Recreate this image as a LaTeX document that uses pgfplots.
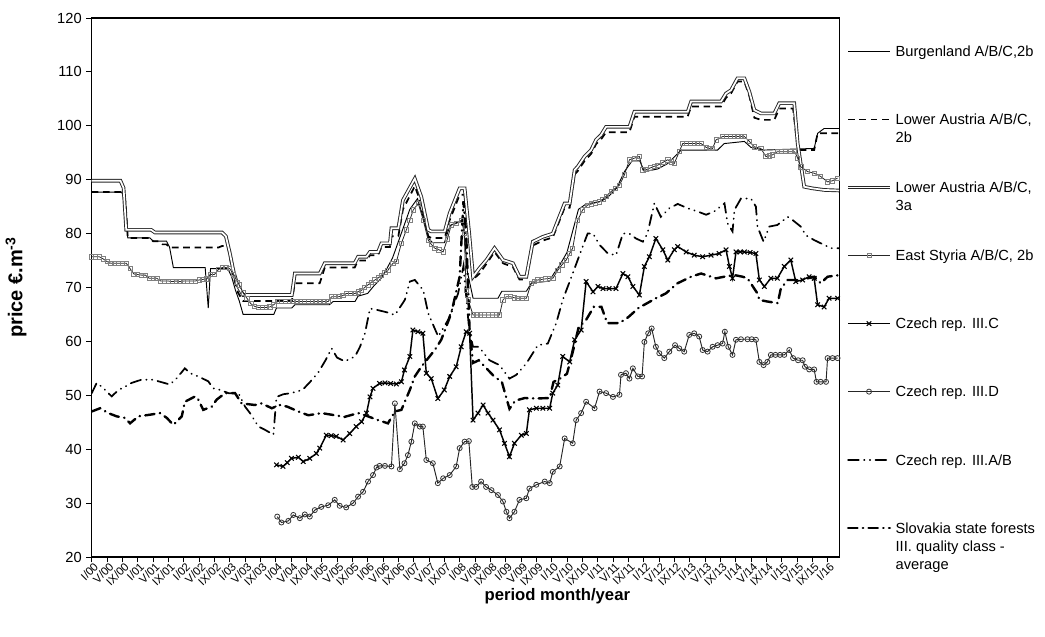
\documentclass[border=0pt]{standalone}
\usepackage{fontspec}
\setmainfont{Liberation Sans}
\usepackage{pgfplots}
\pgfplotsset{compat=1.18}

\tikzset{
  burg/.style={black, line width=0.7pt},
  lowb/.style={black, line width=1.3pt, dash pattern=on 5pt off 3.5pt},
  lowa/.style={draw=black!85, line width=0.7pt, double=white, double distance=1.3pt},
  styr/.style={black!85, line width=0.6pt, mark=square, mark size=1.6pt, mark options={draw=black!50, line width=0.55pt, solid}},
  czc/.style={black, line width=1.1pt, mark=x, mark size=2.4pt, mark options={line width=0.8pt, solid}},
  czd/.style={black!85, line width=0.7pt, mark=o, mark size=1.9pt, mark options={line width=0.6pt, draw=black!80, solid}},
  czab/.style={black, line width=1.3pt, line cap=round, dash pattern=on 8pt off 4pt on 0.3pt off 4pt on 0.3pt off 4pt},
  slov/.style={black, line width=1.8pt, line cap=round, dash pattern=on 7pt off 4pt on 0.3pt off 4pt},
}

\newcommand{\lent}[1]{\parbox[t]{4.2cm}{\strut #1}}

\begin{document}
\begin{tikzpicture}
\useasboundingbox (-68.8pt,-59.25pt) rectangle (714.95pt,417.75pt);
\begin{axis}[
  at={(0,0)}, anchor=south west,
  scale only axis, width=560.5pt, height=404.25pt,
  xmin=0, xmax=195, ymin=20, ymax=120,
  xtick={0,4,...,192},
  xticklabels={I/00,V/00,IX/00,I/01,V/01,IX/01,I/02,V/02,IX/02,I/03,V/03,IX/03,I/04,V/04,IX/04,I/05,V/05,IX/05,I/06,V/06,IX/06,I/07,V/07,IX/07,I/08,V/08,IX/08,I/09,V/09,IX/09,I/10,V/10,IX/10,I/11,V/11,IX/11,I/12,V/12,IX/12,I/13,V/13,IX/13,I/14,V/14,IX/14,I/15,V/15,IX/15,I/16},
  ytick={20,30,...,120},
  tick align=outside, xtick pos=bottom, ytick pos=left,
  major tick length=4pt,
  axis line style={line width=0.8pt},
  every tick/.style={black, line width=0.6pt},
  /pgf/number format/assume math mode=true,
  yticklabel style={font=\fontsize{11}{13}\selectfont},
  xticklabel style={font=\fontsize{8.5}{10}\selectfont, rotate=45, anchor=north east, inner sep=0.3pt, xshift=1.5pt},
  xlabel={\textbf{period month/year}},
  ylabel={\textbf{price €.m\textsuperscript{-3}}},
  every axis x label/.style={at={(axis description cs:0.623,0)}, yshift=-29.5pt, anchor=center, font=\fontsize{12.5}{15}\selectfont},
  every axis y label/.style={at={(axis description cs:0,0.5)}, xshift=-56.8pt, rotate=90, anchor=center, font=\fontsize{15}{18}\selectfont},
  legend style={at={(1,1)}, anchor=north west, xshift=5.25pt, yshift=-18.3pt, draw=none, fill=none, inner sep=0pt, row sep=38.1pt, column sep=2pt, font=\fontsize{11}{13.5}\selectfont, nodes={inner sep=1pt}},
  legend cell align=left,
  legend image code/.code={\draw[mark repeat=2,mark phase=2,#1] plot coordinates {(0cm,0cm) (0.55cm,0cm) (1.1cm,0cm)};},
]

% Burgenland A/B/C,2b
\addplot[burg] coordinates {(0,87.7) (7.8,87.7) (8.8,86) (9.4,79.2) (15.2,79.2) (16,78.6) (19.5,78.6) (20.3,77.5) (21.3,73.7) (29.6,73.7) (30.4,66.2) (31,73.5) (35.5,73.5) (36.5,72) (37.5,69.5) (38.5,67.5) (39.5,65) (47.5,65) (48.2,66.2) (52.2,66.2) (53,66.8) (62,66.8) (63,67.4) (68.7,67.4) (69.5,68.4) (72,68.9) (73.5,70.2) (75.5,71.7) (77,73.5) (78.5,75.5) (80,78.5) (81.5,81.5) (83,84.5) (85,86.5) (86.5,83) (88,79) (89,78.3) (92,78.3) (93.5,81.5) (96,82.3) (97,82.3) (98,73) (99.5,68) (106,68) (107,69.3) (113.4,69.3) (114.7,70.8) (119.5,71.2) (120.5,72.5) (122,74) (124,76.5) (125.5,80.5) (127,84.5) (129,85.5) (133,86) (135,87) (137,88.5) (139,91.5) (141,93.5) (143,93.5) (144.2,91.5) (147.7,92) (150.3,93) (153.8,95.5) (163.3,95.5) (165,96.7) (170.3,97.1) (172,96) (175.5,95.5) (188.5,95.8) (189.4,98.6) (191.1,99.5) (195,99.5)};
\addlegendentry{\lent{Burgenland A/B/C,2b}}

% Lower Austria A/B/C, 2b
\addplot[lowb] coordinates {(0,87.7) (7.8,87.7) (8.8,86) (9.4,79.2) (15.2,79.2) (16,78.6) (17.5,78.6) (18.5,78) (19.5,78) (20.3,77.4) (33,77.4) (34,77.7) (35.5,77.7) (36.2,75) (37,72) (38.2,69) (39.5,67.5) (52.2,67.5) (53,70.8) (59.5,70.8) (60.8,73.7) (68.6,73.7) (69.5,75) (71.7,75) (72.6,76) (74.7,76) (75.6,77.5) (77.8,77.5) (78.2,79.5) (80,79.5) (81.2,84.5) (84.3,88.8) (86,85.5) (87.8,79.5) (88.6,79.2) (92.1,79.2) (93.4,82.5) (96,87.2) (97.3,87.2) (98.5,79) (99.5,71.5) (101.2,72.6) (103,74.4) (105.1,76.6) (107.3,74.5) (109.9,73.8) (111.6,71.5) (113.4,71.5) (115.1,77.8) (117.7,78.7) (120.3,79.3) (122,82.3) (123.4,84.8) (124.7,84.8) (126,91) (126.8,91.6) (128.6,93.5) (130.3,94.8) (131.6,96.6) (132.9,97.5) (134.2,98.8) (140.3,98.8) (141.6,101.7) (155.5,101.7) (156.4,103.6) (164.2,103.6) (165.5,105.2) (166.8,106) (168.5,108.2) (170.3,108.2) (171.6,105.5) (172.9,101.5) (174.6,101.1) (178.1,101.1) (179.4,103.2) (183,103.2) (184,97) (184.5,95.5) (188.5,95.5) (189.4,98.6) (195,98.6)};
\addlegendentry{\lent{Lower Austria A/B/C,\\\strut 2b}}

% Lower Austria A/B/C, 3a
\addplot[lowa] coordinates {(0,89.8) (7.5,89.8) (8.3,88.5) (9,80.7) (15.5,80.7) (16.5,80.2) (34,80.2) (35,79.5) (36,76.5) (37,73) (38,70.5) (39.5,68.6) (52.2,68.6) (53,72.6) (59.5,72.6) (60.8,74.5) (68.6,74.5) (69.5,75.7) (71.7,75.7) (72.6,76.6) (74.7,76.6) (75.6,78.2) (77.8,78.2) (78.2,81) (80,81) (81.2,86.2) (84.3,90.2) (86,86.8) (87.8,80.7) (88.6,80.4) (92.1,80.4) (93.4,83.8) (96,88.4) (97.3,88.4) (98.5,80) (99.5,72) (101.2,73.6) (103,75.1) (105.1,77.3) (107.3,75.1) (109.9,74.5) (111.6,72) (113.4,72) (115.1,78.5) (117.7,79.4) (120.3,80) (122,83.1) (123.4,85.6) (124.7,85.6) (126,91.8) (126.8,92.4) (128.6,94.3) (130.3,95.5) (131.6,97.4) (132.9,98.3) (134.2,99.8) (140.3,99.8) (141.6,102.6) (155.5,102.6) (156.4,104.5) (164.2,104.5) (165.5,106) (166.8,106.6) (168.5,108.8) (170.3,108.8) (171.6,106.3) (172.9,102.9) (174.6,102.3) (178.1,102.3) (179.4,104.2) (183.3,104.2) (184.2,96.7) (185.9,88.7) (188,88.4) (191.1,88.1) (195,88)};
\addlegendentry{\lent{Lower Austria A/B/C,\\\strut 3a}}

% East Styria A/B/C, 2b
\addplot[styr] coordinates {(0,75.7) (1,75.7) (2,75.7) (3,75.3) (4,74.8) (5,74.5) (6,74.5) (7,74.5) (8,74.5) (9,74.5) (10,73.5) (11,72.5) (12,72.4) (13,72.3) (14,72.3) (15,71.7) (16,71.7) (17,71.7) (18,71.2) (19,71.2) (20,71.2) (21,71.1) (22,71.2) (23,71.1) (24,71.2) (25,71.2) (26,71.2) (27,71.2) (28,71.4) (29,71.5) (30,71.6) (31,72.4) (32,72.4) (33,73.3) (34,73.7) (35,73.7) (36,73.5) (37,72.5) (38,71) (38.5,70.5) (39.5,69) (40.5,68) (41.5,67) (42.5,66.5) (43.5,66.3) (44.5,66.3) (45.5,66.3) (46.5,66.4) (47.5,66.8) (48.5,67.4) (49.5,67.4) (50.5,67.4) (51.5,67.4) (52.5,67.4) (53.5,67.4) (54.5,67.4) (55.5,67.4) (56.5,67.4) (57.5,67.4) (58.5,67.4) (59.5,67.4) (60.5,67.4) (61.7,67.4) (62.6,68.3) (63.5,68.3) (64.5,68.3) (65.5,68.5) (66.5,68.9) (67.5,68.9) (68.7,68.9) (69.5,69.2) (70.4,69.5) (71.2,70) (72.1,70.5) (73,71) (73.9,71.4) (74.8,71.8) (75.6,72.3) (76.5,72.8) (77.3,73.2) (78.6,74.5) (79.5,74.8) (80.8,78.2) (82.1,80.7) (83,82.5) (83.9,84.4) (85.2,85.6) (86.5,82.5) (87.8,78.8) (88.6,78) (89.5,77.3) (90.6,77) (91.7,76.6) (92.8,79) (93.8,81.6) (95.2,81.9) (96.5,82.5) (97.2,80) (97.7,69.5) (98.2,67.7) (99.5,64.9) (100.5,64.9) (101.5,64.9) (102.5,64.9) (103.5,64.9) (104.5,64.9) (105.5,64.9) (106.4,64.9) (107.3,67.7) (108.2,68.3) (109.2,68.3) (110.2,68.1) (111.2,68) (112.2,68) (113.4,68) (114.7,70.8) (115.5,71.2) (116.4,71.4) (117.4,71.5) (118.4,71.6) (119.4,71.7) (120.3,71.7) (121.6,73.2) (122.7,74.2) (123.8,75.1) (124.7,76.3) (125.5,77.3) (126.8,82.5) (128.1,84.4) (129.4,85.3) (130.4,85.5) (131.4,85.7) (132.5,85.9) (133.4,86.4) (134.2,86.9) (135.5,87.8) (136.6,88.4) (137.7,89) (139,90.9) (140.3,93.7) (141.6,94) (142.9,94.3) (143.8,91.8) (144.8,91.9) (145.8,92.2) (146.8,92.5) (147.7,92.7) (149,93.2) (150.3,93.7) (151.2,93.3) (152,93) (153.3,95.2) (154.2,96.7) (155.2,96.7) (156.2,96.7) (157.2,96.7) (158.1,96.7) (159,96.7) (160.3,96) (161.2,95.8) (162,95.8) (162.9,97.4) (164.6,98) (165.6,98) (166.6,98) (167.6,98) (168.6,98) (169.5,98) (170.3,98) (171.6,97.1) (172.9,96.1) (174.6,95.8) (175.9,94.3) (176.8,94.4) (177.6,94.6) (178.9,95.2) (179.9,95.2) (180.9,95.2) (182.4,95.2) (183.4,95.2) (184.2,94) (185,92.4) (186.8,91.5) (188.5,91.2) (190.2,90.6) (192,89.6) (193.3,89.8) (194.6,90.3)};
\addlegendentry{\lent{East Styria A/B/C, 2b}}

% Czech rep. III.C
\addplot[czc] coordinates {(48.2,37.1) (49.9,36.8) (51,37.5) (52.1,38.3) (53.9,38.5) (55.2,37.7) (56.9,38.3) (58.6,39.2) (59.5,40.2) (61.2,42.6) (62.5,42.5) (63.8,42.4) (65.6,41.7) (67.3,42.9) (69,44.2) (70.4,45.1) (71.7,46.7) (72.6,49.7) (73.4,51.3) (75.1,52.2) (76.5,52.3) (78,52.2) (79.5,52.1) (80.8,52.5) (81.6,54.7) (83,57.2) (83.8,62.1) (85.1,61.8) (86.4,61.5) (87.3,54.1) (88.6,53.1) (90.3,49.4) (92,51) (93.4,53.5) (95.1,55.3) (96.4,59) (97.7,61.8) (98.6,61.5) (99.5,45.4) (100.8,46.7) (102.1,48.2) (103.4,46.7) (104.7,45.4) (106.4,43.6) (107.7,41.1) (109,38.6) (110.3,41.1) (112.1,42.6) (113.4,42.9) (114.2,47.3) (116,47.6) (117.7,47.6) (119.5,47.6) (120.3,50.4) (121.6,51.9) (122.9,57.2) (124.7,56.2) (126,60.3) (127.7,62.1) (129,71.1) (130.8,69.2) (132.1,70.2) (133.4,69.8) (135,69.8) (136.8,69.8) (138.6,72.6) (139.9,72) (141.2,70.2) (142.9,68.6) (144.2,73.9) (145.5,75.7) (147.2,79.1) (149,77) (150.3,75.1) (152,77) (152.9,77.6) (155.1,76.6) (157.2,76) (159.4,75.7) (161.6,76) (163.7,76.3) (165.5,77) (166.4,73.9) (167.2,71.7) (168.1,76.6) (169.2,76.6) (170.3,76.6) (171.8,76.5) (173.3,76.3) (174.2,71.4) (175.5,70.2) (177.2,71.7) (178.9,71.7) (180.7,73.9) (182.4,75.1) (183.7,71.1) (185.5,71.4) (187.2,72) (188.5,71.7) (189.4,66.8) (191.1,66.4) (192.4,68) (194.6,68)};
\addlegendentry{\lent{Czech rep. III.C}}

% Czech rep. III.D
\addplot[czd] coordinates {(48.4,27.5) (49.5,26.4) (51.3,26.7) (52.6,27.8) (54.3,27.2) (55.6,27.9) (56.9,27.5) (58.2,28.7) (59.9,29.3) (61.7,29.6) (63.4,30.6) (64.7,29.5) (66.4,29.2) (68.2,30) (69.5,31.2) (70.8,32.1) (72.1,34) (73.4,35.2) (74.3,36.6) (75.1,36.9) (76.5,36.9) (78.2,36.8) (79.1,48.5) (80.4,36.3) (81.6,37.4) (82.5,38.9) (83.4,41.4) (84.3,44.8) (85.6,44.2) (86.4,44.2) (87.3,38) (89,37.4) (90.3,33.7) (91.7,34.6) (93.4,35.2) (95.1,36.8) (96,40.2) (97.3,41.4) (98.4,41.5) (99.3,33) (100.3,33) (101.6,34) (102.9,33) (104.3,32.4) (106,31.5) (107.3,30.3) (108.2,28.4) (109,27.2) (110.3,28.4) (111.6,30.6) (113.4,30.9) (114.2,32.7) (116,33.4) (118.2,34) (119.5,33.7) (120.3,35.8) (122.1,36.8) (123.4,42) (125.5,41.1) (126.4,45.4) (127.7,46.7) (129,48.8) (131.2,47.6) (132.5,50.7) (134.2,50.4) (136,49.7) (137.7,50.1) (138.1,53.8) (139.4,54.1) (140.3,53.1) (141.2,55) (142.5,53.5) (143.6,53.5) (144.2,59.9) (145.2,61.5) (146.1,62.4) (147.2,59) (148.1,57.8) (149.4,56.9) (150.7,58.1) (152.2,59.3) (153.3,58.7) (154.6,58.1) (155.9,61.2) (157.2,61.5) (158.5,60.9) (159.4,58.4) (160.7,58.1) (162,59) (163.3,59.3) (164.6,59.6) (165.2,61.8) (166.1,59) (167.2,57.5) (168.1,60.3) (169.4,60.4) (171.1,60.4) (172.2,60.4) (173.3,60.3) (174.2,56.2) (175.3,55.6) (176.3,56.2) (177.2,57.5) (178.4,57.5) (179.6,57.5) (180.7,57.5) (182,58.4) (183,56.9) (184.3,56.5) (185.5,56.5) (186.1,55.3) (187.2,54.8) (188.5,54.8) (189.1,52.5) (190.2,52.5) (191.6,52.5) (192,56.9) (193.3,56.9) (194.6,56.9)};
\addlegendentry{\lent{Czech rep. III.D}}

% Czech rep. III.A/B
\addplot[czab] coordinates {(0,50.4) (1.3,52.3) (2.6,51.6) (5.2,49.8) (7,51) (8.7,51.6) (10.4,52.3) (13,52.9) (15.7,52.9) (17.4,52.6) (20.4,52) (22.2,53.2) (24.3,55) (25.7,54.1) (27.8,53.5) (30.4,52.6) (31.7,51.3) (33.5,51) (35.7,50.4) (38.3,50.4) (40,47.9) (41.3,46.7) (43.5,44.2) (45.2,43.6) (47.4,42.7) (48.2,49.7) (50,50.2) (52,50.4) (55,51) (57,52.5) (59,54.1) (61,56.5) (62.6,58.7) (64,57) (66,56.3) (68.7,57.2) (70,59) (71.3,61.5) (72.6,66.1) (74.7,65.8) (77,65.4) (79.1,64.9) (81.7,67.7) (83,71.1) (84.3,71.4) (86.5,69.5) (87.8,65.2) (90.4,60.9) (93,64) (95.6,68.9) (97,74) (98.5,62) (99.5,59) (101,59) (103.8,56.5) (106.4,55.6) (109,53.1) (110.8,53.8) (113.4,55.9) (116.4,59.3) (119,59.6) (121.2,63.4) (122.9,67.7) (125.5,72.6) (128.1,77.6) (129.4,80) (130.8,80) (132.5,77.9) (134.7,76.3) (136.8,76) (138.6,80) (140.3,80) (142,79.1) (143.8,78.5) (145,80) (146.8,85.6) (148.5,83.1) (150.7,84.7) (152.9,85.5) (155.5,84.7) (158.1,84.1) (160.3,83.5) (162.4,84.1) (165.1,85.6) (165.9,81.9) (167.2,80.4) (167.7,84.4) (169.4,86.5) (172,86.5) (173.3,85) (173.7,81.3) (175.3,78.5) (176.8,81.3) (178.9,81.6) (181.6,83.1) (182.9,82.5) (185,81.3) (186.3,79.7) (188.5,78.8) (191.1,77.9) (192.9,77.3) (195,77.3)};
\addlegendentry{\lent{Czech rep. III.A/B}}

% Slovakia state forests III. quality class - average
\addplot[slov] coordinates {(0,47) (2.2,47.6) (4.3,46.7) (6.5,46.1) (8.7,45.8) (10,44.8) (12.2,46.1) (15.2,46.4) (17.8,46.7) (19.6,45.8) (21.3,44.5) (23.5,46.1) (24.3,48.8) (27,49.8) (27.8,49.2) (29.1,47.3) (31.3,47.9) (32.6,49.2) (34.8,50.4) (37.4,50.4) (39.1,48.5) (42.6,48.2) (44.3,48.5) (47,47.6) (49,48.2) (51,47.9) (53.9,47) (56.5,46.3) (60,46.7) (63.4,46.3) (66,46) (69.5,46.7) (71.3,46.3) (74.7,45.4) (77.3,44.8) (79.1,47) (80.8,47.3) (83,51) (84.3,53.5) (86,55.3) (89.5,58.4) (91.2,60.3) (93.8,65.2) (96,72) (97,86) (97.7,80) (98.6,62) (99.5,56) (101,56.5) (103,55) (105,53.5) (107,52.5) (109,47.5) (110.5,49) (113,49.5) (116,49.4) (119.5,49.5) (120.5,52.5) (122,53) (124,54) (125.5,58) (127,62.5) (129,64) (131,66.4) (133,66.4) (134.5,63.4) (137.7,63.4) (140,64.5) (143,66.4) (144.2,66.8) (147.2,68) (149.8,68.9) (152.9,70.8) (156.4,72) (159,72.6) (161.6,72) (162.9,71.7) (165,72) (167.7,72.3) (169.8,72) (171.1,71.7) (173.7,68.9) (174.2,67.7) (176.3,67.4) (179,67.1) (179.8,69.8) (181.6,71.4) (185,71.4) (188.5,72) (190.2,70.8) (192,72) (195,72.3)};
\addlegendentry{\lent{Slovakia state forests\\\strut III. quality class -\\\strut average}}

\end{axis}
\end{tikzpicture}
\end{document}
